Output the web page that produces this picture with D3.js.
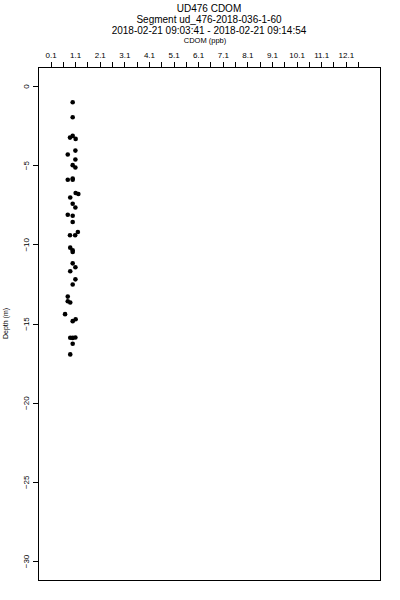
<!DOCTYPE html>
<html>
<head>
<meta charset="utf-8">
<script src="https://cdn.jsdelivr.net/npm/d3@7"></script>
<style>
  body { margin: 0; background: #fff; }
  svg text { font-family: "Liberation Sans", Arial, sans-serif; fill: #000; }
  .axis path, .axis line { stroke: #000; stroke-width: 1; shape-rendering: crispEdges; }
</style>
</head>
<body>
<svg id="chart" width="400" height="600"></svg>
<script>

// CDOM readings (ppb) and depth (m)
const cdom = [1.00, 1.00, 0.89, 1.00, 1.12, 1.11, 0.80, 1.11, 1.00, 1.11,
              0.80, 1.00, 1.00, 1.12, 1.23, 0.90, 1.00, 1.11, 0.80, 1.00,
              1.00, 0.89, 1.10, 1.21, 0.90, 1.00, 1.00, 1.00, 1.11, 0.90,
              1.11, 1.00, 0.80, 0.80, 0.90, 0.69, 1.12, 1.00, 0.90, 1.11,
              1.00, 1.00, 0.90];
const depth = [-1.03, -1.97, -3.26, -3.15, -3.34, -4.08, -4.33, -4.64, -5.00, -5.15,
               -5.92, -5.92, -5.84, -6.76, -6.82, -7.04, -7.44, -7.67, -8.13, -8.19,
               -8.59, -9.43, -9.43, -9.22, -10.21, -10.48, -10.38, -11.20, -11.45, -11.70,
               -12.21, -12.54, -13.30, -13.59, -13.67, -14.41, -14.73, -14.85, -15.90, -15.88,
               -15.91, -16.28, -16.95];

const xTicks = [0.1, 0.6, 1.1, 1.6, 2.1, 2.6, 3.1, 3.6, 4.1, 4.6, 5.1, 5.6, 6.1,
                6.6, 7.1, 7.6, 8.1, 8.6, 9.1, 9.6, 10.1, 10.6, 11.1, 11.6, 12.1, 12.6];
const xLabels = [0.1, 1.1, 2.1, 3.1, 4.1, 5.1, 6.1, 7.1, 8.1, 9.1, 10.1, 11.1, 12.1];
const yTicks = [0, -5, -10, -15, -20, -25, -30];

const titleLines = ["UD476 CDOM", "Segment ud_476-2018-036-1-60",
                    "2018-02-21 09:03:41 - 2018-02-21 09:14:54"];

const svg = d3.select("#chart");
const margin = { top: 67, right: 20, bottom: 20, left: 38 };
const width = +svg.attr("width") - margin.left - margin.right;
const height = +svg.attr("height") - margin.top - margin.bottom;
const chartArea = svg.append("g").attr("transform", `translate(${margin.left},${margin.top})`);

const xScale = d3.scaleLinear().domain([-0.41, 13.49]).range([0, width]);
const yScale = d3.scaleLinear().domain([-31.2, 1.2]).range([height, 0]);

// top axis
const xAxis = d3.axisTop(xScale)
    .tickValues(xTicks)
    .tickSize(5)
    .tickPadding(4)
    .tickFormat(d => xLabels.some(v => Math.abs(v - d) < 1e-6) ? d3.format(".1f")(d) : "");

const gx = chartArea.append("g").attr("class", "axis").call(xAxis);
gx.select(".domain").remove();
gx.append("line")
    .attr("x1", xScale(xTicks[0])).attr("x2", xScale(xTicks[xTicks.length - 1]))
    .attr("y1", 0.5).attr("y2", 0.5);
gx.selectAll("text").style("font-size", "8px");

// left axis, labels rotated like R
const yAxis = d3.axisLeft(yScale).tickValues(yTicks).tickSize(5).tickPadding(0).tickFormat(d3.format("d"));
const gy = chartArea.append("g").attr("class", "axis").call(yAxis);
gy.select(".domain").remove();
gy.selectAll(".tick text")
    .attr("x", null).attr("dy", null)
    .attr("text-anchor", "middle")
    .attr("transform", "translate(-12,0) rotate(-90)")
    .attr("dy", "0.32em")
    .style("font-size", "8px");

// frame
chartArea.append("rect")
    .attr("x", 0.5).attr("y", 0.5)
    .attr("width", width).attr("height", height)
    .attr("fill", "none").attr("stroke", "#000").attr("stroke-width", 1)
    .attr("shape-rendering", "crispEdges");

// points
chartArea.selectAll("circle")
    .data(cdom.map((c, i) => ({ c: c, d: depth[i] })))
    .enter().append("circle")
    .attr("cx", d => xScale(d.c))
    .attr("cy", d => yScale(d.d))
    .attr("r", 2.3)
    .attr("fill", "#000");

// titles
const cx = margin.left + width / 2;
svg.selectAll(".title")
    .data(titleLines)
    .enter().append("text")
    .attr("class", "title")
    .attr("x", cx)
    .attr("y", (d, i) => 12 + i * 11)
    .attr("text-anchor", "middle")
    .style("font-size", "10px")
    .text(d => d);

svg.append("text")
    .attr("x", cx - 4).attr("y", 43)
    .attr("text-anchor", "middle")
    .style("font-size", "7.5px")
    .text("CDOM (ppb)");

svg.append("text")
    .attr("transform", `translate(8,${margin.top + height / 2}) rotate(-90)`)
    .attr("text-anchor", "middle")
    .style("font-size", "7px")
    .text("Depth (m)");
</script>
</body>
</html>
